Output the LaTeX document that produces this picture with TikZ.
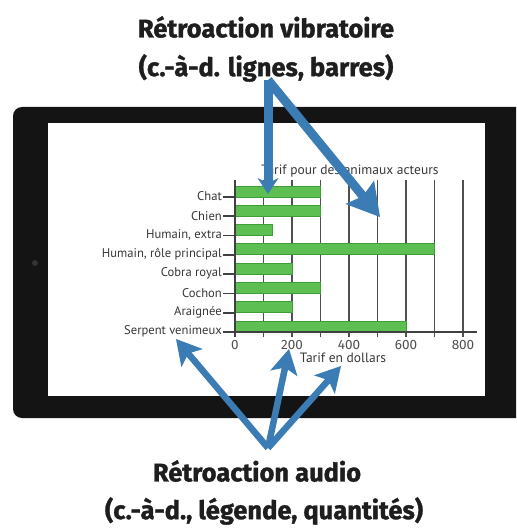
\documentclass[tikz,border=0pt]{standalone}
\usepackage{fontspec}
\setmainfont{Fira Sans}
\newfontfamily\chartfont{PT Sans}
\newfontfamily\headfont{Fira Sans}[BoldFeatures={FakeBold=1.3}]
\usetikzlibrary{arrows.meta}
\definecolor{bezel}{HTML}{141414}
\definecolor{barfill}{HTML}{5DBE52}
\definecolor{barline}{HTML}{3E9E3A}
\definecolor{gridc}{HTML}{505050}
\definecolor{arrowblue}{HTML}{3A7CB3}
\definecolor{txt}{HTML}{383838}
\definecolor{headc}{HTML}{1E1E1E}
\tikzset{
  gridline/.style={draw=gridc, line width=1.8pt},
  axisline/.style={draw=gridc!80!black, line width=2.2pt},
  barbox/.style={fill=barfill, draw=barline, line width=0.8pt},
  cat/.style={anchor=east, inner sep=0pt, text=txt, font=\chartfont\fontsize{12.6}{14}\selectfont},
  num/.style={inner sep=0pt, text=gridc, font=\fontsize{13.5}{14}\selectfont},
  small/.style={inner sep=0pt, text=txt, font=\chartfont\fontsize{13.5}{14}\selectfont},
  head/.style={inner sep=0pt, text=headc, font=\headfont\bfseries\fontsize{25.5}{28}\selectfont},
  toparrow/.style={draw=arrowblue, line width=9pt},
  botarrow/.style={draw=arrowblue, line width=6.5pt, line join=round},
}
\begin{document}
\begin{tikzpicture}[x=1pt,y=-1pt]
\useasboundingbox (0,0) rectangle (516,529);
\clip (0,0) rectangle (516,529);
% tablet
\fill[bezel, rounded corners=9pt] (13,107) rectangle (545,418);
\fill[white] (48,123) rectangle (485,396);
\fill[gray!40!black] (35,263) circle (3);
% grid
\foreach \i in {1,...,8} \draw[gridline] ({235+28.5*\i},180) -- ({235+28.5*\i},337);
% bars
\foreach \v [count=\i from 0] in {300,300,130,700,200,300,200,600}
  \draw[barbox] (235,{197+19.29*\i-11}) rectangle ({235+0.285*\v},{197+19.29*\i});
% axes
\draw[axisline] (235,180) -- (235,337);
\draw[axisline] (224,332) -- (477,332);
% category labels
\foreach \lab [count=\i from 0] in {Chat,Chien,{Humain, extra},{Humain, rôle principal},Cobra royal,Cochon,Araignée,Serpent venimeux}{
  \draw[axisline, line width=1.8pt] (223,{197+19.29*\i}) -- (235,{197+19.29*\i});
  \node[cat] (l\i) at (222,{196.5+19.29*\i}) {\lab};
}
\foreach \v in {0,200,400,600,800}
  \node[num] (t\v) at ({235+0.285*\v},345) {\v};
\node[small] (title) at (350,171) {Tarif pour des animaux acteurs};
\node[small] (xlab) at (343,357.5) {Tarif en dollars};
% arrows
\coordinate (ts) at (268,80);
\coordinate (tv) at (268,194);
\coordinate (td) at (380,217);
\draw[toparrow, -{Stealth[length=16pt,width=21pt,line width=0pt]}] (ts) -- (tv);
\draw[toparrow, -{Stealth[length=32pt,width=37pt,inset=5pt,line width=0pt]}] (ts) -- (td);
\coordinate (bs) at (268,448);
\coordinate (b1) at (176,339);
\coordinate (b2) at (289,349);
\coordinate (b3) at (341,366);
\draw[botarrow, -{Stealth[length=25pt,width=28pt,inset=6pt,line width=0pt]}] (bs) -- (b1);
\draw[botarrow, -{Stealth[length=25pt,width=28pt,inset=6pt,line width=0pt]}] (bs) -- (b2);
\draw[botarrow, -{Stealth[length=25pt,width=28pt,inset=6pt,line width=0pt]}] (bs) -- (b3);
% headings
\node[head] (h1) at (266,27) {Rétroaction vibratoire};
\node[head] (h2) at (266,68) {(c.-à-d. lignes, barres)};
\node[head] (h3) at (257,471) {Rétroaction audio};
\node[head] (h4) at (264,511) {(c.-à-d., légende, quantités)};
\end{tikzpicture}
\end{document}
